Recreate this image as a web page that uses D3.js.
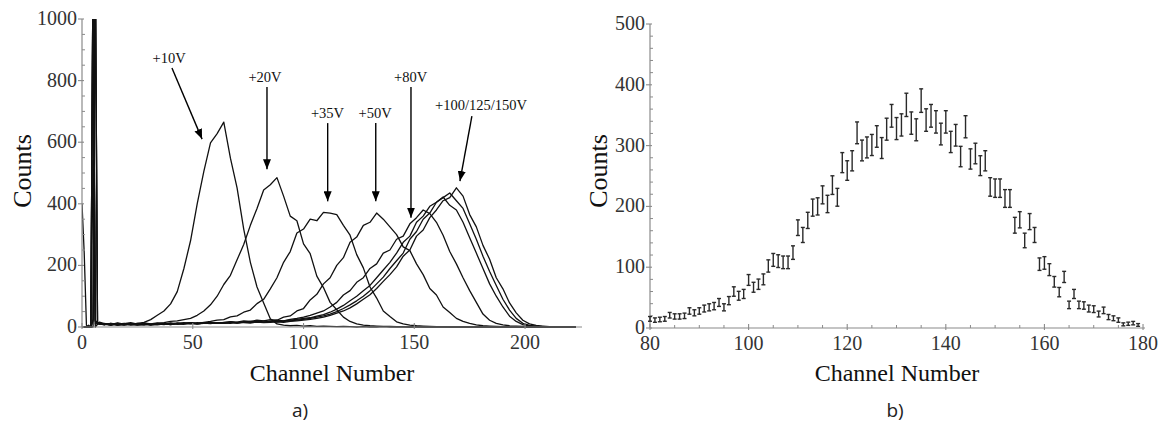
<!DOCTYPE html>
<html><head><meta charset="utf-8">
<script src="https://cdn.jsdelivr.net/npm/d3@7"></script>
<style>
html,body{margin:0;padding:0;background:#fff;}
svg{display:block;}
</style></head>
<body>
<svg id="chart" width="1168" height="425"></svg>
<script>
// ---------- Panel a) data ----------
const chLeft = [0,1,2,3,4,5,6,7,8,
 10,13,16,19,22,25,28,31,34,
 37,40,43,46,49,52,55,58,61,
 64,67,70,73,76,79,82,85,88,
 91,94,97,100,103,106,109,112,115,
 118,121,124,127,130,133,136,139,142,
 145,148,151,154,157,160,163,166,169,
 172,175,178,181,184,187,190,193,196,
 199,202,205,208,211,214,217,220,223];

const v10V = [400,240,6,0,0,1200,0,9,14,
 12,8,10,6,9,12,15,24,38,
 52,75,115,190,280,400,505,598,628,
 665,548,452,318,210,130,78,27,10,
 6,4,5,3,4,2,3,2,1,
 2,1,0,1,0,0,1,0,0,
 0,0,0,0,0,0,0,0,0,
 0,0,0,0,0,0,0,0,0,
 0,0,0,0,0,0,0,0,0];
const v20V = [0,0,0,0,0,0,1200,11,16,
 8,12,6,10,7,9,11,8,12,
 14,18,20,24,28,38,52,72,100,
 138,168,218,268,330,385,445,462,485,
 425,360,345,270,238,165,128,80,56,
 32,18,10,6,4,3,2,2,1,
 1,0,1,0,0,0,0,0,0,
 0,0,0,0,0,0,0,0,0,
 0,0,0,0,0,0,0,0,0];
const v35V = [0,0,0,0,0,540,20,14,9,
 10,6,9,12,8,6,10,7,9,
 11,8,12,10,14,12,15,18,22,
 24,33,36,48,55,76,90,124,160,
 210,245,305,318,350,345,372,370,365,
 330,298,235,192,130,94,52,34,17,
 10,6,4,3,2,1,1,0,0,
 0,0,0,0,0,0,0,0,0,
 0,0,0,0,0,0,0,0,0];
const v50V = [0,0,0,6,0,1200,18,12,10,
 7,10,5,8,11,7,9,6,10,
 8,12,9,11,13,10,12,14,12,
 15,17,16,20,18,22,20,24,22,
 32,36,52,60,88,106,140,160,200,
 225,275,292,330,340,370,350,325,300,
 260,248,205,170,125,104,65,47,28,
 18,12,7,4,3,2,1,1,0,
 0,0,0,0,0,0,0,0,0];
const v80V = [0,0,0,0,0,20,1200,10,14,
 9,6,11,7,10,8,6,9,7,
 10,8,11,9,12,10,13,11,14,
 12,15,13,16,18,16,20,18,22,
 20,25,28,32,38,45,52,65,80,
 104,118,145,160,190,205,240,250,285,
 295,335,355,380,368,340,298,245,205,
 160,118,80,42,22,12,7,4,3,
 2,1,0,0,0,0,0,0,0];
const v100V = [0,0,0,0,0,1200,10,12,9,
 11,8,13,9,7,12,10,8,11,
 9,13,10,12,14,11,13,15,12,
 14,16,13,17,15,18,16,19,18,
 20,22,25,28,30,35,40,48,58,
 70,85,100,118,135,160,185,210,240,
 275,295,340,360,392,405,422,395,380,
 340,290,240,190,140,100,65,35,18,
 8,4,2,1,0,0,0,0,0];
const v125V = [0,0,0,0,0,25,1200,15,11,
 8,12,9,11,14,9,12,10,13,
 11,9,13,12,10,14,12,15,13,
 12,16,14,15,17,16,15,18,17,
 18,20,22,25,28,32,36,42,50,
 60,72,85,100,118,140,162,190,215,
 240,285,310,350,370,405,420,435,410,
 385,335,285,230,180,135,90,55,28,
 12,5,3,1,0,0,0,0,0];
const v150V = [0,0,0,0,0,1200,22,10,10,
 10,7,12,9,11,8,13,10,9,
 12,10,11,14,12,10,13,12,14,
 13,12,15,14,13,16,14,15,17,
 15,18,20,22,25,28,32,38,45,
 52,62,75,90,105,125,148,170,195,
 230,250,295,315,355,380,410,420,452,
 425,365,325,265,220,160,124,78,46,
 22,10,5,3,1,0,0,0,0];
const seriesLeft = [v10V, v20V, v35V, v50V, v80V, v100V, v125V, v150V];

// annotations: label, text position (channel, count), arrow start, arrow end
const annLabels = ["+10V","+20V","+35V","+50V","+80V","+100/125/150V"];
const annText   = [[39.3,857],[82.6,795],[110.8,679],[132.3,679],[148.3,795],[180.1,705]];
const annFrom   = [[40.6,841],[83.5,779],[110.9,662],[132.6,662],[148.5,779],[176.0,685]];
const annTo     = [[54.2,610],[83.5,512],[110.9,408],[132.6,408],[148.5,355],[170.6,474]];

const xTicksL = [0,50,100,150,200];
const yTicksL = [0,200,400,600,800,1000];

// ---------- Panel b) data ----------
const chRight = [80,81,82,83,84,85,86,87,88,89,90,91,92,93,94,95,96,97,98,99,
 100,101,102,103,104,105,106,107,108,109,110,111,112,113,114,115,116,117,118,119,
 120,121,122,123,124,125,126,127,128,129,130,131,132,133,134,135,136,137,138,139,
 140,141,142,143,144,145,146,147,148,149,150,151,152,153,154,155,156,157,158,159,
 160,161,162,163,164,165,166,167,168,169,170,171,172,173,174,175,176,177,178,179];
const countsRight = [15,13,14,15,21,19,19,20,28,25,28,32,34,36,42,34,45,60,53,56,
 79,67,72,80,102,112,110,108,108,124,165,153,177,198,200,219,204,235,215,272,
 259,275,321,292,297,301,315,296,327,349,328,334,367,337,326,374,342,349,339,319,
 339,306,317,282,331,278,287,267,275,232,230,230,213,213,169,178,144,175,153,105,
 107,96,76,59,84,38,56,38,37,32,31,23,29,18,16,13,6,7,8,5];
const xTicksR = [80,100,120,140,160,180];
const yTicksR = [0,100,200,300,400,500];

// ---------- drawing ----------
const svg = d3.select("#chart");
const serif = "'Liberation Serif','Times New Roman',serif";
const axisCol = "#8a8a8a";
const txtCol = "#333";

function drawAxes(g, x, y, xTicks, yTicks, xMinor, yMinor) {
  const [x0, x1] = x.range();
  const [y0, y1] = y.range();
  g.append("line").attr("x1", x0).attr("x2", x1).attr("y1", y0).attr("y2", y0)
    .attr("stroke", axisCol).attr("stroke-width", 1.2);
  g.append("line").attr("x1", x0).attr("x2", x0).attr("y1", y0).attr("y2", y1)
    .attr("stroke", axisCol).attr("stroke-width", 1.2);
  // minor ticks
  g.selectAll(null).data(xMinor).join("line")
    .attr("x1", d => x(d)).attr("x2", d => x(d)).attr("y1", y0).attr("y2", y0 - 3)
    .attr("stroke", axisCol).attr("stroke-width", 1);
  g.selectAll(null).data(yMinor).join("line")
    .attr("x1", x0).attr("x2", x0 + 3).attr("y1", d => y(d)).attr("y2", d => y(d))
    .attr("stroke", axisCol).attr("stroke-width", 1);
  // major ticks
  g.selectAll(null).data(xTicks).join("line")
    .attr("x1", d => x(d)).attr("x2", d => x(d)).attr("y1", y0 + 2).attr("y2", y0 - 4)
    .attr("stroke", axisCol).attr("stroke-width", 1.1);
  g.selectAll(null).data(yTicks).join("line")
    .attr("x1", x0 - 4).attr("x2", x0 + 2).attr("y1", d => y(d)).attr("y2", d => y(d))
    .attr("stroke", axisCol).attr("stroke-width", 1.1);
  // labels
  g.selectAll(null).data(xTicks).join("text")
    .attr("x", d => x(d)).attr("y", y0 + 22).attr("text-anchor", "middle")
    .attr("font-family", serif).attr("font-size", 20).attr("fill", txtCol).text(d => d);
  g.selectAll(null).data(yTicks).join("text")
    .attr("x", x0 - 5).attr("y", d => y(d) + 6).attr("text-anchor", "end")
    .attr("font-family", serif).attr("font-size", 20).attr("fill", txtCol).text(d => d);
}

// ----- panel a -----
const xL = d3.scaleLinear().domain([0, 225.7]).range([82, 582]);
const yL = d3.scaleLinear().domain([0, 1000]).range([327, 19]);
const gA = svg.append("g");

svg.append("defs").html(`
  <clipPath id="clipA"><rect x="82" y="19" width="500" height="310"></rect></clipPath>
  <marker id="arr" viewBox="0 0 10 8" refX="10" refY="4" markerWidth="10" markerHeight="8" markerUnits="userSpaceOnUse" orient="auto">
    <path d="M0,0 L10,4 L0,8 Z" fill="#000"></path>
  </marker>`);

const lineL = d3.line().x((d, i) => xL(chLeft[i])).y(d => yL(d));
gA.append("g").attr("clip-path", "url(#clipA)")
  .selectAll("path").data(seriesLeft).join("path")
  .attr("d", d => lineL(d)).attr("fill", "none")
  .attr("stroke", "#111").attr("stroke-width", 1.3).attr("stroke-linejoin", "round");

drawAxes(gA, xL, yL, xTicksL, yTicksL, [], d3.range(0, 1001, 50).filter(v => v % 200 !== 0));

// annotations
gA.selectAll(null).data(annLabels).join("text")
  .attr("x", (d, i) => xL(annText[i][0])).attr("y", (d, i) => yL(annText[i][1]))
  .attr("text-anchor", "middle").attr("font-family", serif).attr("font-size", 14.5)
  .attr("fill", "#111").text(d => d);
gA.selectAll(null).data(annLabels).join("line")
  .attr("x1", (d, i) => xL(annFrom[i][0])).attr("y1", (d, i) => yL(annFrom[i][1]))
  .attr("x2", (d, i) => xL(annTo[i][0])).attr("y2", (d, i) => yL(annTo[i][1]))
  .attr("stroke", "#000").attr("stroke-width", 1.4).attr("marker-end", "url(#arr)");

gA.append("text").attr("transform", `translate(${31},${171}) rotate(-90)`)
  .attr("text-anchor", "middle").attr("font-family", serif).attr("font-size", 26)
  .attr("fill", "#111").text("Counts");
gA.append("text").attr("x", 332).attr("y", 381).attr("text-anchor", "middle")
  .attr("font-family", serif).attr("font-size", 24).attr("fill", "#111").text("Channel Number");
gA.append("text").attr("x", 300).attr("y", 417).attr("text-anchor", "middle")
  .attr("font-family", "'Open Sans','Noto Sans',sans-serif").attr("font-size", 19)
  .attr("fill", "#222").text("a)");

// ----- panel b -----
const xR = d3.scaleLinear().domain([80, 180.4]).range([650, 1145]);
const yR = d3.scaleLinear().domain([0, 500]).range([328, 24]);
const gB = svg.append("g");
drawAxes(gB, xR, yR, xTicksR, yTicksR,
  d3.range(80, 181, 5).filter(v => v % 20 !== 0),
  d3.range(0, 501, 20).filter(v => v % 100 !== 0));

const eb = gB.append("g").attr("stroke", "#2a2a2a").attr("stroke-width", 1.4);
chRight.forEach((c, i) => {
  const v = countsRight[i], e = Math.sqrt(v);
  const cx = xR(c), yt = yR(v + e), yb = yR(Math.max(0, v - e));
  eb.append("line").attr("x1", cx).attr("x2", cx).attr("y1", yt).attr("y2", yb);
  eb.append("line").attr("x1", cx - 2).attr("x2", cx + 2).attr("y1", yt).attr("y2", yt);
  eb.append("line").attr("x1", cx - 2).attr("x2", cx + 2).attr("y1", yb).attr("y2", yb);
});

gB.append("text").attr("transform", `translate(${607},${171}) rotate(-90)`)
  .attr("text-anchor", "middle").attr("font-family", serif).attr("font-size", 26)
  .attr("fill", "#111").text("Counts");
gB.append("text").attr("x", 897).attr("y", 381).attr("text-anchor", "middle")
  .attr("font-family", serif).attr("font-size", 24).attr("fill", "#111").text("Channel Number");
gB.append("text").attr("x", 895).attr("y", 417).attr("text-anchor", "middle")
  .attr("font-family", "'Open Sans','Noto Sans',sans-serif").attr("font-size", 19)
  .attr("fill", "#222").text("b)");
</script>
</body></html>
